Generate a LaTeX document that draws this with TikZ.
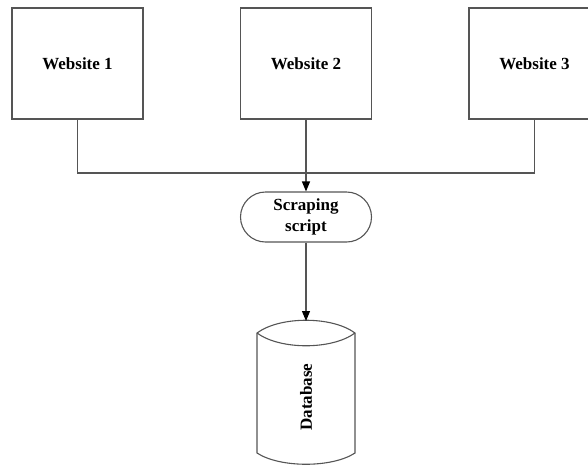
\documentclass[tikz,border=0pt]{standalone}
\usepackage{fontspec}
\setmainfont{Liberation Serif}
\usetikzlibrary{arrows.meta,shapes.misc}
\definecolor{linec}{HTML}{555555}
\tikzset{
  lbl/.style={font=\fontsize{17}{20}\selectfont\bfseries, text=black},
  sitebox/.style={draw=linec, line width=1.2pt, fill=white, minimum width=131pt, minimum height=111pt, inner sep=0pt, lbl},
  proc/.style={draw=linec, line width=1.1pt, fill=white, rounded rectangle, minimum width=131pt, minimum height=50pt, inner sep=0pt, align=center, lbl},
  conn/.style={draw=linec, line width=1.1pt},
  arr/.style={conn, -{Triangle[length=10pt,width=8pt,color=black]}}
}
\begin{document}
\begin{tikzpicture}[x=1pt,y=-1pt]
\useasboundingbox (0,0) rectangle (588,464);
\begin{scope}
\clip (0,0) rectangle (588,464);
\node[sitebox] (w1) at (77.5,63.5) {Website 1};
\node[sitebox] (w2) at (306,63.5) {Website 2};
\node[sitebox] (w3) at (534.5,63.5) {Website 3};
\end{scope}
\coordinate (j1) at (77.5,173);
\coordinate (j2) at (306,173);
\node[proc] (scr) at (306,217) {Scraping\\[1pt]script};
% database cylinder
\draw[conn, fill=white] (257,333) .. controls (280,316) and (332,316) .. (355,333)
  -- (355,453) .. controls (332,468) and (280,468) .. (257,453) -- cycle;
\draw[conn] (257,333) .. controls (280,350) and (332,350) .. (355,333);
\coordinate (dbtop) at (306,321);
\node[lbl, rotate=90] (db) at (306,397) {Database};
\draw[conn] (w1.south) |- (j1) -- (j2) -| (w3.south);
\draw[arr] (w2.south) -- (scr.north);
\draw[arr] (scr.south) -- (dbtop);
\end{tikzpicture}
\end{document}
